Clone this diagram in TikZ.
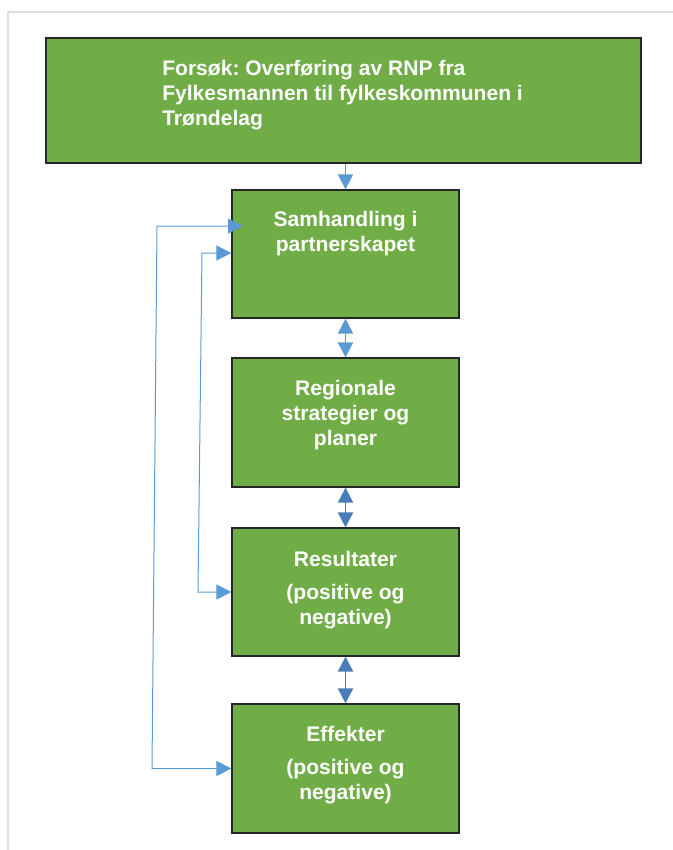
\documentclass[tikz,border=0pt]{standalone}
\usepackage{fontspec}
\setmainfont{Liberation Sans}
\frenchspacing
\usetikzlibrary{arrows.meta}
\definecolor{stage green}{HTML}{70AD47}
\definecolor{link blue}{HTML}{5B9BD5}
\definecolor{pair blue}{HTML}{4A7EBB}
\definecolor{page edge}{HTML}{DDDDDD}
\tikzstyle{stage} = [rectangle, fill=stage green, draw=black!85, line width=0.9pt, inner sep=0pt, minimum width=170.25pt, minimum height=96pt]
\tikzset{stagetext/.style={text=white, font=\bfseries\fontsize{15.8pt}{18.75pt}\selectfont, align=center, inner sep=0pt},
    feed/.style={draw=link blue, line width=0.75pt},
    pair/.style={line width=1.4pt, {Triangle[width=11.25pt,length=11.25pt]}-{Triangle[width=11.25pt,length=11.25pt]}}}

\begin{document}
\begin{tikzpicture}[x=0.75pt, y=-0.75pt]
    % page and frame
    \useasboundingbox (0,0) rectangle (673,850);
    \draw[page edge, line width=1.5pt] (673,12) -- (7.5,12) -- (7.5,850);
    %
    \node[stage, minimum width=446.25pt, minimum height=93.75pt] (trial) at (343.5,100.5) {};
    \node[stage] (samh) at (345.5,254) {};
    \node[stage, minimum height=96.75pt] (strat) at (345.5,422.5) {};
    \node[stage] (result) at (345.5,592) {};
    \node[stage, minimum height=96.75pt] (effect) at (345.5,768.5) {};
    % texts (base = last line)
    \node[stagetext, anchor=base west, align=left] (trialtext) at (162,125.7) {Forsøk: Overføring av RNP fra\\Fylkesmannen til fylkeskommunen i\\Trøndelag};
    \node[stagetext, anchor=base] (samhtext) at (345.5,251.7) {Samhandling i\\partnerskapet};
    \node[stagetext, anchor=base] (strattext) at (345.5,445.7) {Regionale\\strategier og\\planer};
    \node[stagetext, anchor=base] (resulttext) at (345.5,624) {Resultater\\[6pt](positive og\\negative)};
    \node[stagetext, anchor=base] (effecttext) at (345.5,799) {Effekter\\[6pt](positive og\\negative)};
    % arrows between the boxes
    \draw[feed, -{Triangle[width=11.25pt,length=11.25pt]}] (samh.north |- trial.south) -- (samh.north);
    \draw[pair, link blue] (samh.south) -- (strat.north);
    \draw[pair, pair blue] (strat.south) -- (result.north);
    \draw[pair, pair blue] (result.south) -- (effect.north);
    % feedback lines
    \coordinate (outtip) at (243,226);
    \coordinate (outtop) at (157,226);
    \coordinate (outbot) at (152,768.5);
    \coordinate (intop) at (202,253);
    \coordinate (inbot) at (198,592);
    \draw[feed, {Triangle[width=11.25pt,length=11.25pt]}-{Triangle[width=11.25pt,length=11.25pt]}] (outtip) -- (outtop) -- (outbot) -- (effect.west);
    \draw[feed, {Triangle[width=11.25pt,length=11.25pt]}-{Triangle[width=11.25pt,length=11.25pt]}] (samh.west |- intop) -- (intop) -- (inbot) -- (result.west);
\end{tikzpicture}
\end{document}
